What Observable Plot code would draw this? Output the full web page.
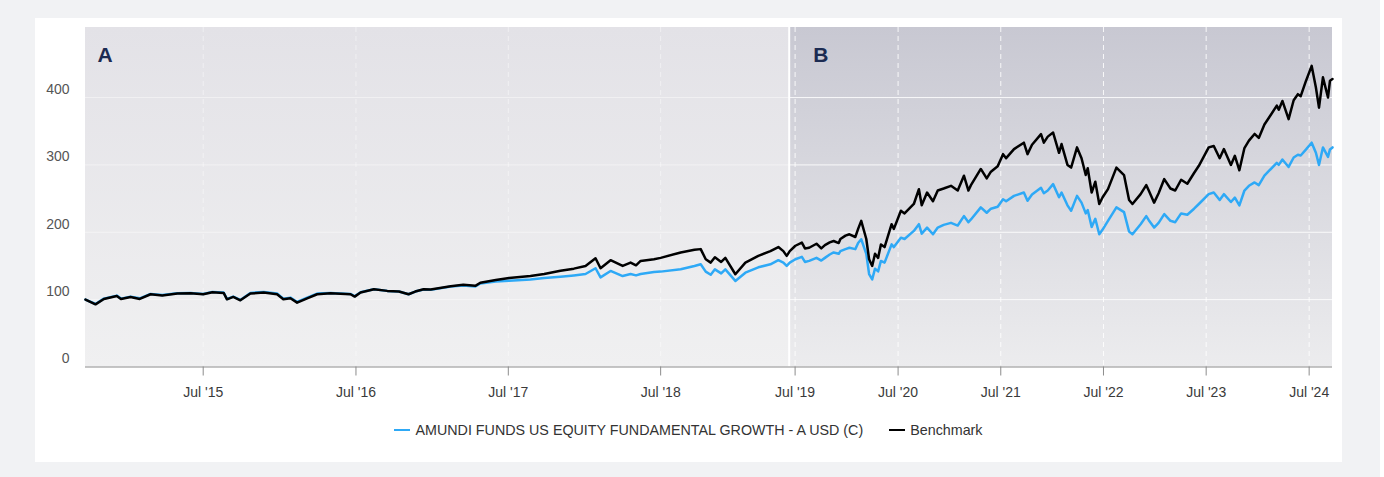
<!DOCTYPE html>
<html>
<head>
<meta charset="utf-8">
<script src="https://cdn.jsdelivr.net/npm/d3@7"></script>
<script src="https://cdn.jsdelivr.net/npm/@observablehq/plot@0.6"></script>
<style>
  html, body { margin: 0; padding: 0; }
  body { width: 1384px; height: 477px; background: #f1f2f4; position: relative; overflow: hidden;
         font-family: "Liberation Sans", Arial, sans-serif; }
  #card { position: absolute; left: 35px; top: 18px; width: 1307px; height: 444px; background: #ffffff; }
  #edge { position: absolute; left: 1380px; top: 0; width: 4px; height: 477px; background: #ffffff; }
  #chart { position: absolute; left: 0; top: 0; }
  #legend { position: absolute; left: 35px; width: 1307px; top: 421px; height: 18px;
            display: flex; justify-content: center; align-items: center; font-size: 14.3px; color: #333; }
  .item { display: flex; align-items: center; }
  .item + .item { margin-left: 26px; }
  .sw { width: 16px; height: 2.5px; margin-right: 5px; }
</style>
</head>
<body>
<div id="card"></div>
<div id="edge"></div>
<div id="chart"></div>
<div id="legend"></div>
<script>
// ---- data ----
const dates = [
  "2014-09-22","2014-10-16","2014-11-05","2014-12-06","2014-12-16","2015-01-08","2015-01-30","2015-02-25",
  "2015-03-25","2015-04-30","2015-06-01","2015-07-01","2015-07-23","2015-08-19","2015-08-27","2015-09-11",
  "2015-09-28","2015-10-22","2015-11-23","2015-12-25","2016-01-09","2016-01-26","2016-02-11","2016-03-06",
  "2016-03-30","2016-05-01","2016-06-18","2016-06-28","2016-07-12","2016-08-13","2016-09-14","2016-10-12",
  "2016-11-04","2016-11-20","2016-12-10","2016-12-27","2017-02-13","2017-03-15","2017-04-13","2017-04-25",
  "2017-06-01","2017-07-03","2017-08-23","2017-09-25","2017-11-03","2017-12-05","2018-01-02","2018-01-26",
  "2018-02-07","2018-03-03","2018-04-01","2018-04-20","2018-05-03","2018-05-14","2018-06-15","2018-07-01",
  "2018-08-18","2018-09-20","2018-10-05","2018-10-17","2018-10-29","2018-11-08","2018-11-23","2018-12-03",
  "2018-12-27","2019-01-20","2019-02-20","2019-03-21","2019-04-09","2019-04-21","2019-04-29",
  "2019-06-12","2019-07-02","2019-07-25","2019-08-05","2019-08-20","2019-09-15","2019-10-02","2019-10-15",
  "2019-11-01","2019-11-15","2019-12-03","2019-12-09","2019-12-27","2020-01-10","2020-01-31","2020-02-10",
  "2020-02-21","2020-03-10","2020-03-20","2020-03-31","2020-04-10","2020-04-21","2020-05-01","2020-05-14",
  "2020-06-08","2020-06-16","2020-07-11","2020-07-24","2020-08-26","2020-09-13","2020-09-23","2020-10-12",
  "2020-11-02","2020-11-19","2020-12-10","2021-01-05","2021-01-29","2021-02-20","2021-03-08","2021-03-17",
  "2021-04-21","2021-05-12","2021-05-27","2021-06-20","2021-07-09","2021-07-20","2021-08-17","2021-09-21",
  "2021-10-04","2021-10-20","2021-11-21","2021-12-01","2021-12-15","2022-01-03","2022-01-24","2022-02-02",
  "2022-02-23","2022-03-08","2022-03-29","2022-04-14","2022-04-29","2022-05-06","2022-05-20","2022-06-02",
  "2022-06-16","2022-06-28","2022-07-17","2022-08-16","2022-09-12","2022-09-30","2022-10-12","2022-11-10",
  "2022-11-30","2022-12-09","2022-12-28","2023-01-13","2023-02-02","2023-02-24","2023-03-13","2023-04-03",
  "2023-04-25","2023-05-19","2023-06-05","2023-07-10","2023-07-28","2023-08-18","2023-09-02","2023-09-27",
  "2023-10-11","2023-10-27","2023-11-14","2023-11-30","2023-12-20","2024-01-04","2024-01-24","2024-02-09",
  "2024-03-08","2024-03-15","2024-03-28","2024-04-19","2024-05-07","2024-05-22","2024-06-01","2024-06-20",
  "2024-07-10","2024-07-25","2024-08-05","2024-08-19","2024-09-06","2024-09-13","2024-09-22"
];
const benchmark = [
  100, 93, 101, 105.5, 101, 104, 101, 108,
  106, 109, 109.5, 108, 111, 110, 100.5, 104,
  99, 109, 110.5, 108, 100.5, 102, 95.5, 102,
  108, 109.5, 108, 104.5, 110.5, 115.4, 113, 112,
  108, 112, 115.4, 115, 120, 122, 120.5, 125,
  129, 132, 135, 138, 143, 146, 150, 161.5,
  146.6, 158.5, 150, 155, 151, 157.5, 160, 162,
  170, 174, 175, 160, 155, 163, 156, 162,
  137.7, 155, 165, 172, 178, 172, 165,
  172, 180, 184.7, 176, 177, 183, 176, 181,
  185, 187, 184, 190, 195, 197, 193, 205,
  217, 190, 160, 150, 168, 162, 182, 178,
  212, 205, 232, 228, 242, 264, 240, 259,
  246, 262, 265, 269, 262, 284, 262, 270,
  294, 280, 290, 298, 316, 310, 323.5, 333,
  316, 330, 345.7, 333, 342, 348, 318, 331,
  300, 296, 326, 310, 285, 295, 259, 275,
  242, 252, 264, 296, 285, 248, 242, 256.6,
  270, 262, 244, 258, 279, 265, 262, 278,
  272, 288, 298.7, 326, 328, 310, 323.5, 300,
  313.5, 292, 325, 336, 346, 340, 360, 370,
  388, 382, 395, 368, 396, 405, 402, 425,
  447, 415, 385, 430, 400, 425, 427.5
];
const fund = [
  100, 93.5, 101.5, 106, 101.5, 104.5, 102, 108.5,
  107, 109.5, 110, 108.5, 111.5, 110.5, 101, 104.5,
  99.5, 110, 111.5, 109, 101.5, 103, 96.5, 103,
  109, 110, 108.5, 105, 111, 115.5, 113, 112,
  108, 112, 115, 114.5, 119.5, 121, 119.5, 124,
  127, 128, 130, 132, 134, 136, 138, 146.6,
  133, 142.6, 135, 138, 136, 138, 141, 141.6,
  145, 150, 152.5, 141.6, 137, 145, 139, 145,
  127.8, 140, 148, 152.5, 158.5, 155, 150,
  155, 160, 163.5, 156, 157.5, 162, 158, 162,
  167, 170, 168, 172, 175, 177, 175, 184,
  189.7, 168, 138, 130, 146, 142, 157.5, 155,
  182, 178, 192, 190, 202, 212, 198, 207,
  197, 207, 211, 214, 210, 224, 215, 219,
  237, 229, 235, 238, 249, 246, 254, 259,
  246.7, 256, 266, 258, 262, 271.5, 252, 259,
  240, 232, 254, 244, 228, 233, 208, 220,
  197, 204, 217, 237, 230, 201, 197, 212,
  224, 218, 207, 214, 227, 217, 215, 228,
  226, 235, 242, 256.6, 259, 248, 256.6, 245,
  251.5, 240, 262, 269, 274, 270, 284, 291,
  303, 300, 308, 297, 311, 315, 314, 323,
  333, 318, 300, 326, 312, 323, 326
];
const seriesNames = ["AMUNDI FUNDS US EQUITY FUNDAMENTAL GROWTH - A USD (C)", "Benchmark"];
const seriesColors = ["#2ea9f6", "#000000"];
const bandIds = ["A", "B"];
const bandStarts = ["2014-09-22", "2019-06-10"];
const bandEnds = ["2019-05-05", "2024-09-22"];
const yTicks = [0, 100, 200, 300, 400];
const xTickDates = ["2015-07-01","2016-07-01","2017-07-01","2018-07-01","2019-07-01",
                    "2020-07-01","2021-07-01","2022-07-01","2023-07-01","2024-07-01"];

// ---- build ----
const P = s => new Date(s + "T00:00:00Z");
const rows = dates.map((d, i) => ({date: P(d), fund: fund[i], bench: benchmark[i]}));
const bands = bandIds.map((id, i) => ({id, start: P(bandStarts[i]), end: P(bandEnds[i])}));
const xTicks = xTickDates.map(P);
const xTicksA = xTicks.filter(d => d < bands[0].end);
const xTicksB = xTicks.filter(d => d >= bands[1].start);
const fmt = d => "Jul '" + String(d.getUTCFullYear()).slice(2);
const font = "'Liberation Sans', Arial, sans-serif";
const gridY = yTicks.slice(1);

const svg = Plot.plot({
  width: 1384,
  height: 400,
  marginLeft: 85,
  marginRight: 52,
  marginTop: 27,
  marginBottom: 33.5,
  style: {fontFamily: font, fontSize: "14px", background: "transparent", color: "#333", overflow: "visible"},
  x: {type: "utc", domain: [bands[0].start, bands[0].end, bands[1].start, bands[1].end],
      range: [85, 788.7, 788.7, 1332], axis: null},
  y: {domain: [0, 504], axis: null},
  marks: [
    Plot.rect([bands[0]], {x1: "start", x2: "end", fill: "url(#gradA)"}),
    Plot.rect([bands[1]], {x1: "start", x2: "end", fill: "url(#gradB)"}),
    Plot.ruleY(gridY, {y: d => d, x1: bands[0].start, x2: bands[0].end, stroke: "#ffffff", strokeOpacity: 0.45}),
    Plot.ruleY(gridY, {y: d => d, x1: bands[1].start, x2: bands[1].end, stroke: "#ffffff", strokeOpacity: 0.85}),
    Plot.ruleX(xTicksA, {stroke: "#ffffff", strokeOpacity: 0.45, strokeDasharray: "5,4"}),
    Plot.ruleX(xTicksB, {stroke: "#ffffff", strokeOpacity: 0.85, strokeDasharray: "5,4"}),
    Plot.ruleX([bands[1].start], {stroke: "#ffffff", strokeWidth: 2}),
    Plot.ruleY([0], {stroke: "#8c8c8c", strokeWidth: 1.2}),
    Plot.axisX({ticks: xTicks, tickFormat: fmt, tickSize: 9, tickPadding: 11, fontSize: 14}),
    Plot.text(yTicks, {x: bands[0].start, y: d => d, text: d => String(d), textAnchor: "end",
                       dx: -16, dy: -8, fill: "#555", fontSize: 14}),
    Plot.line(rows, {x: "date", y: "fund", stroke: seriesColors[0], strokeWidth: 2.5}),
    Plot.line(rows, {x: "date", y: "bench", stroke: seriesColors[1], strokeWidth: 2.5}),
    Plot.text([bands[0]], {x: "start", y: 504, text: "id", textAnchor: "start", dx: 12, dy: 28,
                           fontWeight: "bold", fontSize: 21, fill: "#1c2b52"}),
    Plot.text([bands[1]], {x: "start", y: 504, text: "id", textAnchor: "start", dx: 24, dy: 28,
                           fontWeight: "bold", fontSize: 21, fill: "#1c2b52"})
  ]
});

// gradients for the shaded periods
const defs = d3.select(svg).insert("defs", ":first-child");
const gA = defs.append("linearGradient").attr("id", "gradA").attr("x1", 0).attr("y1", 0).attr("x2", 0).attr("y2", 1);
gA.append("stop").attr("offset", "0%").attr("stop-color", "#e3e2e7");
gA.append("stop").attr("offset", "100%").attr("stop-color", "#f0f0f1");
const gB = defs.append("linearGradient").attr("id", "gradB").attr("x1", 0).attr("y1", 0).attr("x2", 0).attr("y2", 1);
gB.append("stop").attr("offset", "0%").attr("stop-color", "#c8c8d2");
gB.append("stop").attr("offset", "100%").attr("stop-color", "#ececee");

d3.select(svg).selectAll('g[aria-label="x-axis tick"]').attr("stroke", "#8c8c8c");
d3.select(svg).selectAll('g[aria-label="x-axis tick"] path').attr("stroke", "#8c8c8c");
d3.select(svg).selectAll('g[aria-label="x-axis tick label"]').attr("fill", "#3a3a3a");

document.getElementById("chart").appendChild(svg);

// legend
const legend = document.getElementById("legend");
seriesNames.forEach((name, i) => {
  const item = document.createElement("div");
  item.className = "item";
  const sw = document.createElement("div");
  sw.className = "sw";
  sw.style.background = seriesColors[i];
  const label = document.createElement("span");
  label.textContent = name;
  item.appendChild(sw);
  item.appendChild(label);
  legend.appendChild(item);
});
</script>
</body>
</html>
